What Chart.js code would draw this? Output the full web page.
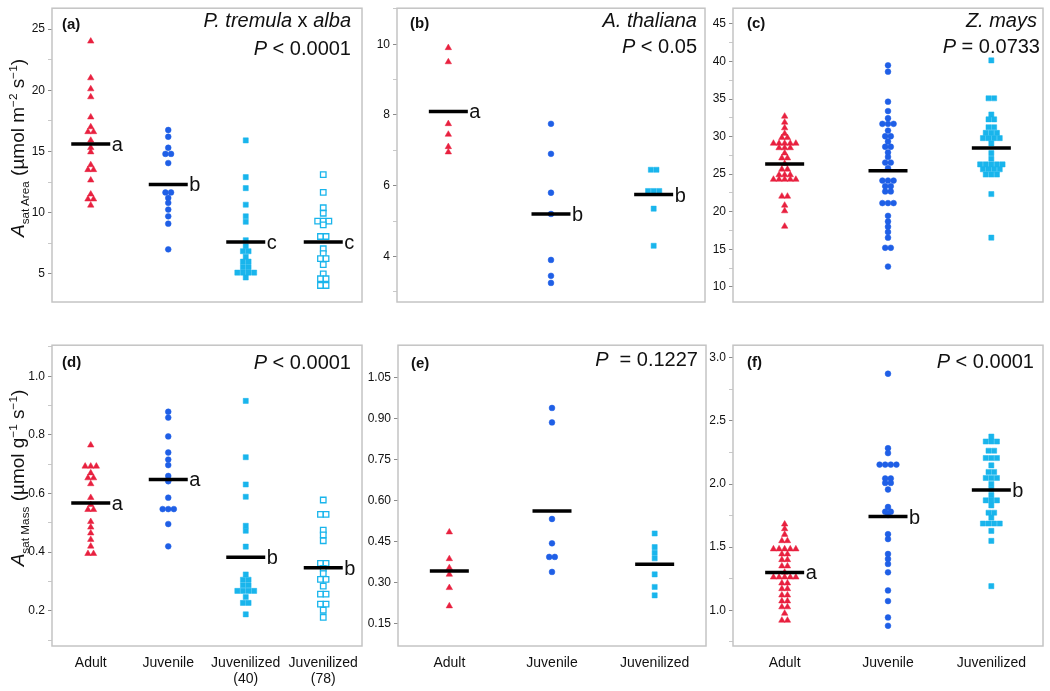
<!DOCTYPE html>
<html>
<head>
<meta charset="utf-8">
<script src="https://cdn.jsdelivr.net/npm/chart.js@4.4.1/dist/chart.umd.min.js"></script>
<style>
  body { margin: 0; background: #fff; width: 1050px; height: 691px; position: relative; overflow: hidden;
         font-family: "Liberation Sans", Arial, Helvetica, sans-serif; color: #111; }
  canvas { position: absolute; }
  .t { position: absolute; white-space: nowrap; font-size: 20px; line-height: 20px; text-align: right; }
  .pl { position: absolute; font-weight: bold; font-size: 15px; line-height: 15px; }
  .yt { position: absolute; white-space: nowrap; font-size: 19px; line-height: 20px;
        transform: translate(-50%, -50%) rotate(-90deg); }
  .yt sub, .yt sup { font-size: 0.62em; line-height: 0; }
</style>
</head>
<body>
<canvas id="pa"></canvas>
<canvas id="pb"></canvas>
<canvas id="pc"></canvas>
<canvas id="pd"></canvas>
<canvas id="pe"></canvas>
<canvas id="pf"></canvas>

<!-- panel labels and headers -->
<div class="pl" style="left:62px;top:16px">(a)</div>
<div class="pl" style="left:410px;top:15px">(b)</div>
<div class="pl" style="left:747px;top:15px">(c)</div>
<div class="pl" style="left:62px;top:354px">(d)</div>
<div class="pl" style="left:411px;top:355px">(e)</div>
<div class="pl" style="left:747px;top:354px">(f)</div>

<div class="t" style="right:699px;top:10px"><i>P. tremula</i> x <i>alba</i></div>
<div class="t" style="right:699px;top:38px"><i>P</i> &lt; 0.0001</div>
<div class="t" style="right:353px;top:10px"><i>A. thaliana</i></div>
<div class="t" style="right:353px;top:36px"><i>P</i> &lt; 0.05</div>
<div class="t" style="right:13px;top:10px"><i>Z. mays</i></div>
<div class="t" style="right:10px;top:36px"><i>P</i> = 0.0733</div>
<div class="t" style="right:699px;top:352px"><i>P</i> &lt; 0.0001</div>
<div class="t" style="right:352px;top:349px"><i>P</i>&nbsp; = 0.1227</div>
<div class="t" style="right:16px;top:351px"><i>P</i> &lt; 0.0001</div>

<div class="yt" style="left:18px;top:148px"><i>A</i><sub>sat Area</sub> (µmol m<sup>−2</sup> s<sup>−1</sup>)</div>
<div class="yt" style="left:18px;top:478px"><i>A</i><sub>sat Mass</sub> (µmol g<sup>−1</sup> s<sup>−1</sup>)</div>

<script>
// categories
const CAT4 = ['Adult', 'Juvenile', ['Juvenilized', '(40)'], ['Juvenilized', '(78)']];
const CAT3 = ['Adult', 'Juvenile', 'Juvenilized'];

// (a) Asat area, P. tremula x alba
const A_ADULT = [24.0, 21.0, 20.1, 19.45, 17.8, 17.0, 16.6, 16.6, 15.9, 15.3, 14.95, 13.9, 13.5, 13.5, 12.65, 11.5, 11.1, 11.1, 10.6];
const A_JUV = [16.75, 16.2, 15.3, 14.8, 14.8, 14.05, 11.65, 11.65, 11.2, 10.8, 10.25, 9.7, 9.1, 7.0];
const A_JZ40 = [15.9, 12.9, 12.0, 10.65, 9.7, 9.25, 7.75, 7.25, 6.85, 6.85, 6.4, 6.0, 6.0, 5.55, 5.55, 5.1, 5.1, 5.1, 5.1, 4.7];
const A_JZ78 = [13.1, 11.65, 10.4, 9.95, 9.3, 9.3, 9.3, 9.0, 8.05, 8.05, 7.05, 6.65, 6.25, 6.25, 5.75, 5.0, 4.6, 4.6, 4.05, 4.05];
const A_MEANS = [15.6, 12.3, 7.6, 7.6];
const A_LETTERS = ['a', 'b', 'c', 'c'];
const A_YTICKS = ['5', '10', '15', '20', '25'];

// (b) Asat area, A. thaliana
const B_ADULT = [9.9, 9.5, 7.75, 7.45, 7.1, 6.95];
const B_JUV = [7.75, 6.9, 5.8, 5.2, 3.9, 3.45, 3.25];
const B_JZ = [6.45, 6.45, 5.85, 5.85, 5.85, 5.35, 4.3];
const B_MEANS = [8.1, 5.2, 5.75];
const B_LETTERS = ['a', 'b', 'b'];
const B_YTICKS = ['4', '6', '8', '10'];

// (c) Asat area, Z. mays
const C_ADULT = [32.7, 31.9, 31.15, 30.4, 29.85, 29.85, 29.1, 29.1, 29.1, 29.1, 29.1, 28.5, 28.5, 28.5, 27.8, 27.15, 27.15, 26.4,
  25.65, 25.65, 24.9, 24.9, 24.9, 24.3, 24.3, 24.3, 24.3, 24.3, 22.05, 22.05, 20.85, 20.1, 18.05];
const C_JUV = [39.5, 38.65, 34.65, 33.4, 32.45, 31.7, 31.7, 31.7, 30.8, 30.05, 30.05, 29.35, 28.65, 28.65, 27.9, 27.3, 26.55, 26.55,
  25.8, 24.15, 24.15, 24.15, 23.4, 23.4, 22.7, 22.7, 21.15, 21.15, 21.15, 19.45, 18.7, 18.0, 17.3, 16.55, 15.2, 15.2, 12.7];
const C_JZ = [40.15, 35.1, 35.1, 32.95, 32.3, 32.3, 31.25, 31.25, 30.5, 30.5, 30.5, 29.8, 29.8, 29.8, 29.8, 29.1, 27.8, 27.05,
  26.3, 26.3, 26.3, 26.3, 26.3, 25.65, 25.65, 25.65, 25.65, 24.95, 24.95, 24.95, 22.35, 16.55];
const C_MEANS = [26.35, 25.45, 28.5];
const C_LETTERS = ['', '', ''];
const C_YTICKS = ['10', '15', '20', '25', '30', '35', '40', '45'];

// (d) Asat mass, P. tremula x alba
const D_ADULT = [0.765, 0.693, 0.693, 0.693, 0.67, 0.653, 0.653, 0.633, 0.586, 0.562, 0.545, 0.545, 0.504, 0.485, 0.465, 0.443, 0.42, 0.395, 0.395];
const D_JUV = [0.879, 0.859, 0.795, 0.74, 0.716, 0.697, 0.66, 0.642, 0.586, 0.547, 0.547, 0.547, 0.496, 0.42];
const D_JZ40 = [0.916, 0.724, 0.631, 0.589, 0.49, 0.473, 0.419, 0.324, 0.306, 0.306, 0.287, 0.287, 0.268, 0.268, 0.268, 0.268, 0.247, 0.227, 0.227, 0.188];
const D_JZ78 = [0.578, 0.529, 0.529, 0.475, 0.459, 0.439, 0.362, 0.362, 0.345, 0.327, 0.307, 0.307, 0.284, 0.257, 0.257, 0.223, 0.223, 0.202, 0.178];
const D_MEANS = [0.568, 0.648, 0.383, 0.347];
const D_LETTERS = ['a', 'a', 'b', 'b'];
const D_YTICKS = ['0.2', '0.4', '0.6', '0.8', '1.0'];

// (e) Asat mass, A. thaliana
const E_ADULT = [0.485, 0.387, 0.354, 0.33, 0.281, 0.214];
const E_JUV = [0.94, 0.887, 0.533, 0.444, 0.394, 0.394, 0.339];
const E_JZ = [0.48, 0.43, 0.409, 0.389, 0.33, 0.284, 0.253];
const E_MEANS = [0.342, 0.562, 0.367];
const E_LETTERS = ['', '', ''];
const E_YTICKS = ['0.15', '0.30', '0.45', '0.60', '0.75', '0.90', '1.05'];

// (f) Asat mass, Z. mays
const F_ADULT = [1.682, 1.645, 1.6, 1.55, 1.55, 1.485, 1.485, 1.485, 1.485, 1.485, 1.445, 1.445, 1.4, 1.4, 1.35, 1.35, 1.3,
  1.262, 1.262, 1.262, 1.262, 1.262, 1.215, 1.215, 1.17, 1.17, 1.12, 1.12, 1.073, 1.073, 1.026, 1.026, 0.975, 0.92, 0.92];
const F_JUV = [2.874, 2.284, 2.245, 2.154, 2.154, 2.154, 2.154, 2.044, 2.044, 2.009, 2.009, 1.957, 1.818, 1.781, 1.781, 1.755,
  1.603, 1.564, 1.446, 1.407, 1.367, 1.301, 1.157, 1.073, 0.943, 0.877];
const F_JZ = [2.376, 2.337, 2.337, 2.337, 2.264, 2.264, 2.206, 2.206, 2.206, 2.148, 2.096, 2.096, 2.048, 2.048, 2.048, 2.001, 1.96,
  1.912, 1.871, 1.871, 1.871, 1.831, 1.773, 1.773, 1.734, 1.687, 1.687, 1.687, 1.687, 1.629, 1.55, 1.191];
const F_MEANS = [1.3, 1.742, 1.952];
const F_LETTERS = ['a', 'b', 'b'];
const F_YTICKS = ['1.0', '1.5', '2.0', '2.5', '3.0'];

const FONT = '"Liberation Sans", Arial, Helvetica, sans-serif';
const RED = '#e8203f', BLUE = '#1f5fe6', CYAN = '#19b5ec';
const STYLES = [
    { pointStyle: 'triangle', radius: 3.7, fill: RED, border: RED, bw: 0.5 },
    { pointStyle: 'circle', radius: 2.9, fill: BLUE, border: BLUE, bw: 0.5 },
    { pointStyle: 'rect', radius: 3.6, fill: CYAN, border: CYAN, bw: 0.5 },
    { pointStyle: 'rect', radius: 3.9, fill: '#ffffff', border: CYAN, bw: 1.3 }
];
const STEP_PX = 5.6; // side-by-side spacing of tied points

Chart.defaults.font.family = FONT;

// spread tied values side by side around the category centre
function swarm(values, idx, stepUnits) {
    const counts = {}, seen = {};
    values.forEach(v => { counts[v] = (counts[v] || 0) + 1; });
    return values.map(v => {
        const n = counts[v];
        const k = seen[v] = (seen[v] || 0) + 1;
        return { x: idx + (k - 1 - (n - 1) / 2) * stepUnits, y: v };
    });
}

function tickList(labels, minor, min, max) {
    const vals = labels.map(Number);
    const out = vals.map(v => ({ value: v }));
    if (minor) {
        const step = vals[1] - vals[0];
        for (let v = vals[0] - step / 2; v <= max; v += step) {
            if (v >= min) out.push({ value: v });
        }
    }
    return out.sort((a, b) => a.value - b.value);
}

const framePlugin = {
    id: 'frame',
    beforeDatasetsDraw(chart) {
        const { ctx, chartArea: a } = chart;
        ctx.save();
        ctx.strokeStyle = '#c4c4c4';
        ctx.lineWidth = 1.5;
        ctx.strokeRect(a.left, a.top, a.right - a.left, a.bottom - a.top);
        ctx.restore();
    }
};

const letterPlugin = {
    id: 'meanLetters',
    afterDatasetsDraw(chart, args, opts) {
        const meta = chart.getDatasetMeta(0);
        const ctx = chart.ctx;
        ctx.save();
        ctx.font = '20px ' + FONT;
        ctx.fillStyle = '#111';
        ctx.textBaseline = 'alphabetic';
        meta.data.forEach((el, i) => {
            const s = opts.letters[i];
            if (s) ctx.fillText(s, el.x + 21, el.y + 7);
        });
        ctx.restore();
    }
};

function makePanel(p) {
    const canvas = document.getElementById(p.id);
    const L = 50, T = 8, R = 8, B = p.showX ? 44 : 8;
    canvas.width = L + p.boxW + R;
    canvas.height = T + p.boxH + B;
    canvas.style.left = (p.boxL - L) + 'px';
    canvas.style.top = (p.boxT - T) + 'px';

    const n = p.cats.length;
    const stepUnits = STEP_PX / (p.boxW / n);
    const majors = p.yTicks.map(Number);

    const datasets = [{
        data: p.means.map((m, i) => ({ x: i, y: m })),
        pointStyle: 'line',
        pointRadius: 19.5,
        pointBorderWidth: 3.5,
        pointBorderColor: '#000',
        showLine: false,
        order: 0
    }];
    p.series.forEach((vals, i) => {
        const st = STYLES[p.styles[i]];
        datasets.push({
            data: swarm(vals, i, stepUnits),
            pointStyle: st.pointStyle,
            pointRadius: st.radius,
            pointBackgroundColor: st.fill,
            pointBorderColor: st.border,
            pointBorderWidth: st.bw,
            showLine: false,
            order: 1
        });
    });

    new Chart(canvas, {
        type: 'scatter',
        data: { datasets },
        plugins: [framePlugin, letterPlugin],
        options: {
            responsive: false,
            animation: false,
            events: [],
            layout: { autoPadding: false, padding: { left: 0, top: T, right: R, bottom: p.showX ? 0 : B } },
            plugins: {
                legend: { display: false },
                tooltip: { enabled: false },
                meanLetters: { letters: p.letters }
            },
            scales: {
                x: {
                    type: 'linear',
                    min: -0.5,
                    max: n - 0.5,
                    display: p.showX,
                    grid: { display: false },
                    border: { display: false },
                    afterBuildTicks: s => { s.ticks = p.cats.map((c, i) => ({ value: i })); },
                    afterFit: s => { s.height = B; },
                    ticks: {
                        color: '#111',
                        font: { size: 14, lineHeight: 1.15 },
                        padding: 1,
                        maxRotation: 0,
                        autoSkip: false,
                        callback: v => p.cats[v]
                    }
                },
                y: {
                    min: p.yMin,
                    max: p.yMax,
                    border: { display: false },
                    grid: {
                        drawOnChartArea: false,
                        drawTicks: true,
                        tickLength: 4,
                        tickWidth: 1,
                        tickColor: c => majors.some(m => Math.abs(m - c.tick.value) < 1e-9) ? '#8a8a8a' : '#c8c8c8'
                    },
                    afterBuildTicks: s => { s.ticks = tickList(p.yTicks, p.minor, p.yMin, p.yMax); },
                    afterFit: s => { s.width = L; },
                    ticks: {
                        color: '#111',
                        font: { size: 12 },
                        padding: 3,
                        autoSkip: false,
                        callback: v => {
                            const i = majors.findIndex(m => Math.abs(m - v) < 1e-9);
                            return i >= 0 ? p.yTicks[i] : '';
                        }
                    }
                }
            }
        }
    });
}

makePanel({ id: 'pa', boxL: 52, boxT: 6, boxW: 310, boxH: 304, cats: CAT4, showX: false,
    series: [A_ADULT, A_JUV, A_JZ40, A_JZ78], styles: [0, 1, 2, 3], means: A_MEANS, letters: A_LETTERS,
    yMin: 2.7, yMax: 26.7, yTicks: A_YTICKS, minor: true });
makePanel({ id: 'pb', boxL: 397, boxT: 6, boxW: 308, boxH: 304, cats: CAT3, showX: false,
    series: [B_ADULT, B_JUV, B_JZ], styles: [0, 1, 2], means: B_MEANS, letters: B_LETTERS,
    yMin: 2.71, yMax: 11.02, yTicks: B_YTICKS, minor: true });
makePanel({ id: 'pc', boxL: 733, boxT: 6, boxW: 310, boxH: 304, cats: CAT3, showX: false,
    series: [C_ADULT, C_JUV, C_JZ], styles: [0, 1, 2], means: C_MEANS, letters: C_LETTERS,
    yMin: 7.98, yMax: 47.1, yTicks: C_YTICKS, minor: true });
makePanel({ id: 'pd', boxL: 52, boxT: 343, boxW: 310, boxH: 303, cats: CAT4, showX: true,
    series: [D_ADULT, D_JUV, D_JZ40, D_JZ78], styles: [0, 1, 2, 3], means: D_MEANS, letters: D_LETTERS,
    yMin: 0.08, yMax: 1.106, yTicks: D_YTICKS, minor: true });
makePanel({ id: 'pe', boxL: 398, boxT: 343, boxW: 308, boxH: 303, cats: CAT3, showX: true,
    series: [E_ADULT, E_JUV, E_JZ], styles: [0, 1, 2], means: E_MEANS, letters: E_LETTERS,
    yMin: 0.0675, yMax: 1.17, yTicks: E_YTICKS, minor: false });
makePanel({ id: 'pf', boxL: 733, boxT: 343, boxW: 310, boxH: 303, cats: CAT3, showX: true,
    series: [F_ADULT, F_JUV, F_JZ], styles: [0, 1, 2], means: F_MEANS, letters: F_LETTERS,
    yMin: 0.717, yMax: 3.1, yTicks: F_YTICKS, minor: true });
</script>
</body>
</html>
